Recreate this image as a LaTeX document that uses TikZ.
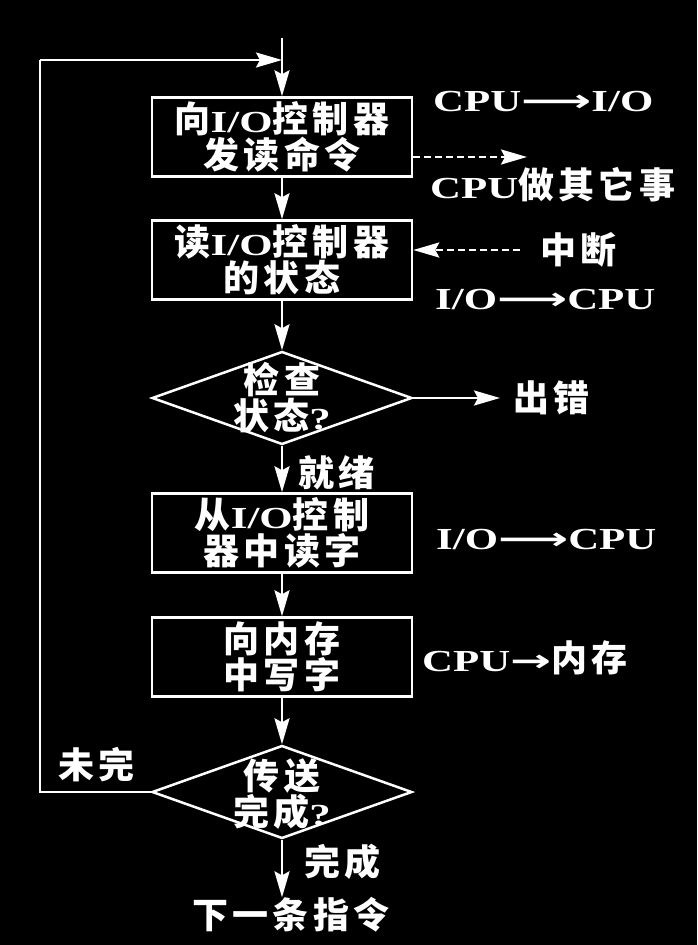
\documentclass[tikz,border=0pt]{standalone}
\usepackage{fontspec}
\setmainfont{Noto Sans CJK SC}[LetterSpace=12]
\newfontfamily\latf{Liberation Serif}[FakeStretch=1.4,Scale=0.85]
\newfontfamily\arrf{DejaVu Sans}[FakeStretch=1.6,Scale=0.85]
\newcommand\lt[1]{{\latf #1}}
\newcommand\ar{{\arrf ⟶}}
\newcommand\fs{\fontsize{36}{36}\selectfont\bfseries}
\usetikzlibrary{arrows.meta,shapes.geometric}
\tikzset{
  ln/.style={draw=white, line width=2.5pt},
  arr/.style={ln, -{Stealth[length=26pt,width=15pt,inset=4pt]}},
  box/.style={draw=white, line width=2.5pt, rectangle, minimum width=260pt, minimum height=79pt, inner sep=0pt, align=center, text=white, font=\fs},
  dia/.style={draw=white, line width=2.5pt, diamond, minimum width=260pt, minimum height=93pt, inner sep=0pt},
  txt/.style={text=white, font=\fs, inner sep=0pt, align=center},
  dsh/.style={dash pattern=on 7pt off 4pt},
}
\begin{document}
\begin{tikzpicture}[x=1pt,y=-1pt]
\fill[black] (0,0) rectangle (697,945);
\useasboundingbox (0,0) rectangle (697,945);
\coordinate (top) at (282,38);
\coordinate (j) at (282,60);
\coordinate (lt) at (40,60);
\node[box] (b1) at (282,137) {向\lt{I/O}控制器\\发读命令};
\node[box] (b2) at (282,260) {读\lt{I/O}控制器\\的状态};
\node[dia] (d1) at (282,398) {};
\node[txt] (d1t) at (282,398) {检查\\状态\lt{?}};
\node[box] (b3) at (282,533) {从\lt{I/O}控制\\器中读字};
\node[box] (b4) at (282,657) {向内存\\中写字};
\node[dia] (d2) at (282,792) {};
\node[txt] (d2t) at (282,794) {传送\\完成\lt{?}};
\node[txt] (next) at (291,915) {下一条指令};
\node[txt,anchor=west] (l1) at (433,102) {\lt{CPU}\ar\lt{I/O}};
\node[txt,anchor=west] (l2) at (430,185) {\lt{CPU}做其它事};
\coordinate (e1) at (527,157);
\coordinate (s2) at (520,250);
\node[txt,anchor=west] (l3) at (540,250) {中断};
\node[txt,anchor=west] (l4) at (435,300) {\lt{I/O}\ar\lt{CPU}};
\coordinate (err) at (500,398);
\node[txt,anchor=west] (l5) at (513,398) {出错};
\node[txt,anchor=west] (l6) at (298,473) {就绪};
\node[txt,anchor=west] (l7) at (436,540) {\lt{I/O}\ar\lt{CPU}};
\node[txt,anchor=west] (l8) at (422,658) {\lt{CPU}{\arrf →}内存};
\node[txt,anchor=west] (l9) at (58,765) {未完};
\node[txt,anchor=west] (l10) at (304,862) {完成};
\draw[ln] (top) -- (j);
\draw[arr] (j) -- (b1.north);
\draw[ln] (d2.west) -| (lt);
\draw[arr] (lt) -- (j);
\draw[arr] (b1.south) -- (b2.north);
\draw[arr,dsh] (b1.east |- e1) -- (e1);
\draw[arr,dsh] (s2) -- (b2.east |- s2);
\draw[arr] (b2.south) -- (d1.north);
\draw[arr] (d1.east) -- (err);
\draw[arr] (d1.south) -- (b3.north);
\draw[arr] (b3.south) -- (b4.north);
\draw[arr] (b4.south) -- (d2.north);
\draw[arr] (d2.south) -- (d2.south |- next.north);
\end{tikzpicture}
\end{document}
